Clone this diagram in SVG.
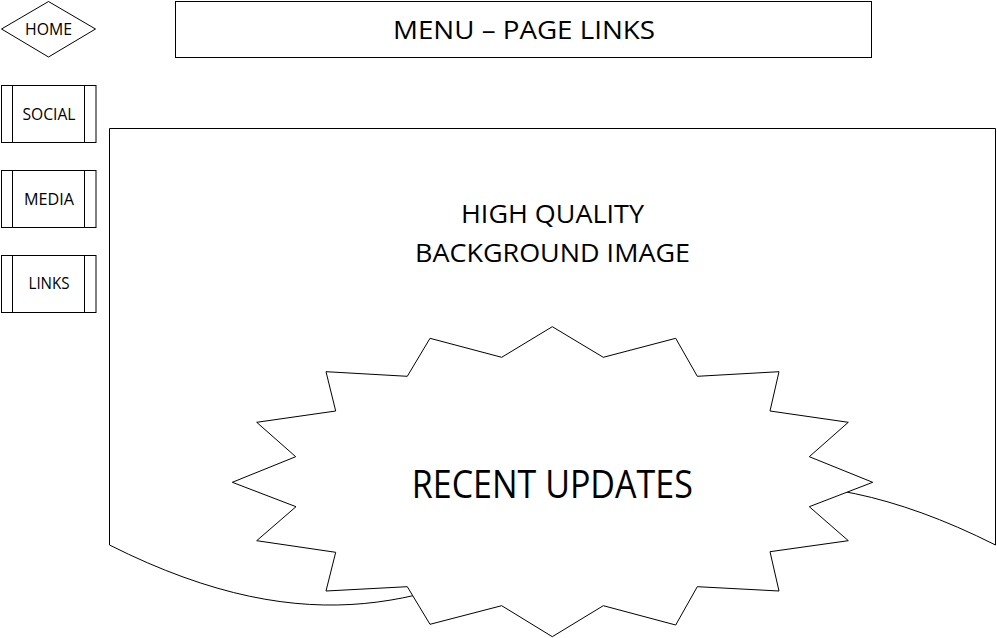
<svg xmlns="http://www.w3.org/2000/svg" width="997" height="638" viewBox="0 0 997 638">
<style>
.s{fill:#fff;stroke:#000;stroke-width:1}
.ln{fill:none;stroke:#000;stroke-width:1}
text{font-family:"Open Sans","Liberation Sans",sans-serif;fill:#000;text-anchor:middle}
.sm{font-size:16px}
.md{font-size:25px}
.lg{font-size:39px}
</style>
<rect width="997" height="638" fill="#fff"/>
<g id="home">
<polygon class="s" points="1.5,29 48.5,1.5 95.5,29 48.5,57"/>
<text class="sm" x="48.5" y="35" textLength="47" lengthAdjust="spacingAndGlyphs">HOME</text>
</g>
<g id="menu">
<rect class="s" x="175.5" y="1.5" width="696" height="56"/>
<text class="md" x="524" y="39.3" textLength="262" lengthAdjust="spacingAndGlyphs">MENU – PAGE LINKS</text>
</g>
<g id="social">
<rect class="s" x="1.5" y="85.5" width="94.5" height="57"/>
<line class="ln" x1="12.5" y1="85.5" x2="12.5" y2="142.5"/>
<line class="ln" x1="84.5" y1="85.5" x2="84.5" y2="142.5"/>
<text class="sm" x="49" y="120" textLength="53" lengthAdjust="spacingAndGlyphs">SOCIAL</text>
</g>
<g id="media">
<rect class="s" x="1.5" y="170.5" width="94.5" height="57"/>
<line class="ln" x1="12.5" y1="170.5" x2="12.5" y2="227.5"/>
<line class="ln" x1="84.5" y1="170.5" x2="84.5" y2="227.5"/>
<text class="sm" x="49" y="205" textLength="50" lengthAdjust="spacingAndGlyphs">MEDIA</text>
</g>
<g id="links">
<rect class="s" x="1.5" y="255.5" width="94.5" height="57"/>
<line class="ln" x1="12.5" y1="255.5" x2="12.5" y2="312.5"/>
<line class="ln" x1="84.5" y1="255.5" x2="84.5" y2="312.5"/>
<text class="sm" x="49" y="289.3" textLength="41" lengthAdjust="spacingAndGlyphs">LINKS</text>
</g>
<g id="background">
<path class="s" d="M109.5,128.5 L995.5,128.5 L995.5,545 C582,337 523,753 109.5,545 Z"/>
<text class="md" x="552.5" y="223.3" textLength="183" lengthAdjust="spacingAndGlyphs">HIGH QUALITY</text>
<text class="md" x="552.5" y="261.7" textLength="275" lengthAdjust="spacingAndGlyphs">BACKGROUND IMAGE</text>
</g>
<g id="updates">
<polygon class="s" points="232.3,482.3 295.7,456.7 256.7,422.3 335.7,411 326,371.7 407.3,376.3 430,338.3 501.7,357.3 552.3,326.7 603.3,357.3 675.7,338.3 697.3,376.3 779,371.7 770,411 848.3,422.3 809.3,456.7 872.7,482.3 809.3,506.7 848.3,540.7 770,551.7 779,591 697.3,586.7 675.7,625 603.3,605.7 552.3,636.7 501.7,605.7 430,624.3 407.3,586.7 326,591 335.7,552.3 256.7,540.7 296,506.7"/>
<text class="lg" x="552.3" y="497.7" textLength="281" lengthAdjust="spacingAndGlyphs">RECENT UPDATES</text>
</g>
<g id="connectors"/>
</svg>
